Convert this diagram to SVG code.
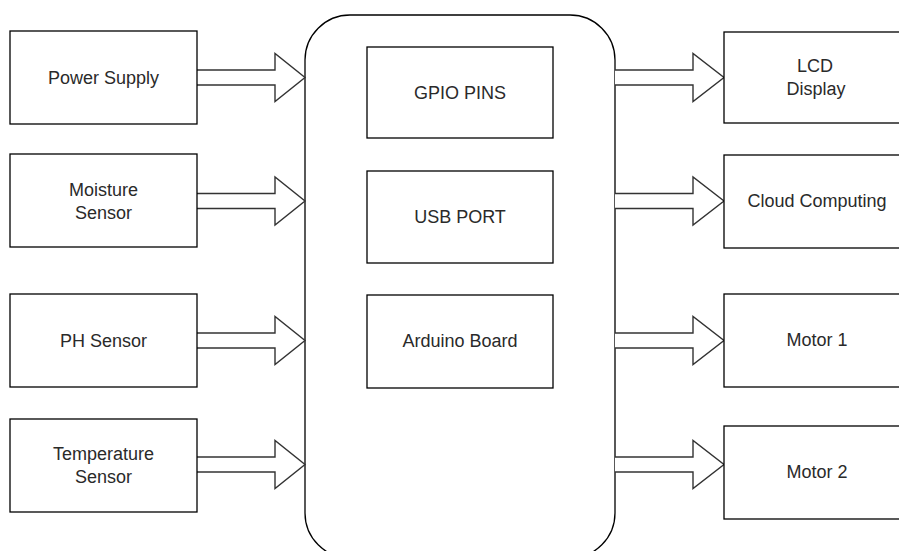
<svg xmlns="http://www.w3.org/2000/svg" width="899" height="551" viewBox="0 0 899 551">
  <style>
    .box { fill: #ffffff; stroke: #000000; stroke-width: 1.3; }
    .hub { fill: #ffffff; stroke: #000000; stroke-width: 1.3; }
    .arrow { fill: #ffffff; stroke: #333333; stroke-width: 1.4; stroke-linejoin: miter; }
    .label { font-family: "Liberation Sans", Arial, Helvetica, sans-serif; font-size: 18px; fill: #2a2a2a; text-anchor: middle; }
  </style>
  <defs>
    <!-- hollow block arrow: shaft 15px tall, head 48px tall -->
    <path id="blockArrow" d="M0,-7.5 H78 V-24 L109,0 L78,24 V7.5 H0" />
    <path id="blockArrowLong" d="M0,-7.5 H78 V-24 L108,0 L78,24 V7.5 H0" />
  </defs>

  <rect width="899" height="551" fill="#ffffff" />

  <!-- central controller enclosure -->
  <g id="controller">
    <rect class="hub" x="305" y="15" width="310" height="543" rx="45" ry="45" />
  </g>

  <!-- connectors -->
  <g id="connectors">
    <use href="#blockArrowLong" class="arrow" transform="translate(197,77.5)" />
    <use href="#blockArrowLong" class="arrow" transform="translate(197,201)" />
    <use href="#blockArrowLong" class="arrow" transform="translate(197,340.5)" />
    <use href="#blockArrowLong" class="arrow" transform="translate(197,464.5)" />
    <use href="#blockArrow" class="arrow" transform="translate(615,77.5)" />
    <use href="#blockArrow" class="arrow" transform="translate(615,201)" />
    <use href="#blockArrow" class="arrow" transform="translate(615,340.5)" />
    <use href="#blockArrow" class="arrow" transform="translate(615,464.5)" />
  </g>

  <!-- inputs -->
  <g id="power-supply">
    <rect class="box" x="10" y="31" width="187" height="93" />
    <text class="label" x="103.5" y="83.5">Power Supply</text>
  </g>
  <g id="moisture-sensor">
    <rect class="box" x="10" y="154" width="187" height="93" />
    <text class="label" x="103.5" y="195.5">Moisture</text>
    <text class="label" x="103.5" y="218.5">Sensor</text>
  </g>
  <g id="ph-sensor">
    <rect class="box" x="10" y="294" width="187" height="93" />
    <text class="label" x="103.5" y="346.5">PH Sensor</text>
  </g>
  <g id="temperature-sensor">
    <rect class="box" x="10" y="419" width="187" height="93" />
    <text class="label" x="103.5" y="460">Temperature</text>
    <text class="label" x="103.5" y="483">Sensor</text>
  </g>

  <!-- controller blocks -->
  <g id="gpio-pins">
    <rect class="box" x="367" y="47" width="186" height="91" />
    <text class="label" x="460" y="98.5">GPIO PINS</text>
  </g>
  <g id="usb-port">
    <rect class="box" x="367" y="171" width="186" height="92" />
    <text class="label" x="460" y="223">USB PORT</text>
  </g>
  <g id="arduino-board">
    <rect class="box" x="367" y="295" width="186" height="93" />
    <text class="label" x="460" y="347">Arduino Board</text>
  </g>

  <!-- outputs -->
  <g id="lcd-display">
    <rect class="box" x="724" y="32" width="186" height="91" />
    <text class="label" x="815" y="72">LCD</text>
    <text class="label" x="816" y="95">Display</text>
  </g>
  <g id="cloud-computing">
    <rect class="box" x="724" y="155" width="186" height="93" />
    <text class="label" x="817" y="207">Cloud Computing</text>
  </g>
  <g id="motor-1">
    <rect class="box" x="724" y="294" width="186" height="93" />
    <text class="label" x="817" y="346">Motor 1</text>
  </g>
  <g id="motor-2">
    <rect class="box" x="724" y="426" width="186" height="93" />
    <text class="label" x="817" y="478">Motor 2</text>
  </g>
</svg>
